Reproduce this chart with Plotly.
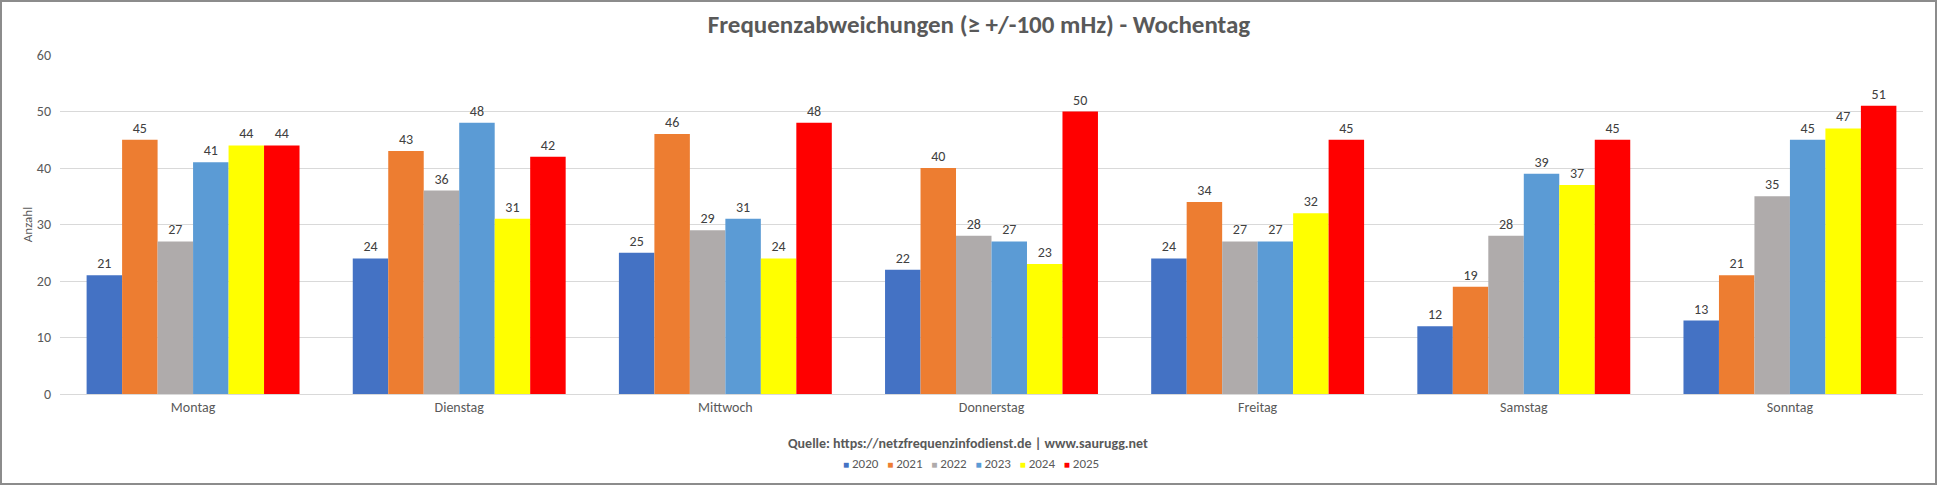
import plotly.graph_objects as go

# Daten
tage = ["Montag", "Dienstag", "Mittwoch", "Donnerstag", "Freitag", "Samstag", "Sonntag"]
jahre = ["2020", "2021", "2022", "2023", "2024", "2025"]
werte_2020 = [21, 24, 25, 22, 24, 12, 13]
werte_2021 = [45, 43, 46, 40, 34, 19, 21]
werte_2022 = [27, 36, 29, 28, 27, 28, 35]
werte_2023 = [41, 48, 31, 27, 27, 39, 45]
werte_2024 = [44, 31, 24, 23, 32, 37, 47]
werte_2025 = [44, 42, 48, 50, 45, 45, 51]

farben = ["#4472C4", "#ED7D31", "#AFABAB", "#5B9BD5", "#FFFF00", "#FF0000"]
serien = [werte_2020, werte_2021, werte_2022, werte_2023, werte_2024, werte_2025]

FONT = "Carlito, 'Liberation Sans Narrow', 'Open Sans', sans-serif"

W, H = 1938, 485
ML, MR, MT, MB = 60, 15, 55, 91
pw = W - ML - MR
ph = H - MT - MB

fig = go.Figure()
for jahr, werte, farbe in zip(jahre, serien, farben):
    fig.add_trace(go.Bar(
        x=tage, y=werte, name=jahr,
        marker=dict(color=farbe, line=dict(width=0)),
        text=werte, textposition="outside",
        textfont=dict(color="#404040", size=14, family=FONT),
        cliponaxis=False,
    ))

# kompakte Legende wie im Original (Excel-Stil)
legende = "&nbsp;&nbsp;&nbsp;".join(
    f"<span style='color:{f};font-size:10px'>■</span>&nbsp;{j}"
    for j, f in zip(jahre, farben)
)

fig.update_layout(
    barmode="group", bargap=0.2, bargroupgap=0,
    width=W, height=H, showlegend=False,
    margin=dict(l=ML, r=MR, t=MT, b=MB, autoexpand=False),
    paper_bgcolor="white", plot_bgcolor="white",
    font=dict(family=FONT, color="#595959", size=14),
    title=dict(text="<b>Frequenzabweichungen (≥ +/-100 mHz) - Wochentag</b>",
               font=dict(size=25, color="#595959", family=FONT),
               x=979 / W, xanchor="center", xref="container",
               y=1 - 24 / H, yanchor="middle", yref="container"),
    xaxis=dict(showgrid=False, showline=True, linecolor="#D9D9D9", linewidth=1,
               tickfont=dict(size=14, color="#595959"), ticks=""),
    yaxis=dict(range=[0, 60], dtick=10, showgrid=True, gridcolor="#D9D9D9",
               gridwidth=1, zeroline=False, showline=False,
               tickfont=dict(size=14, color="#595959"), ticklabelstandoff=8,
               title=dict(text="Anzahl", font=dict(size=13, color="#595959"),
                          standoff=1)),
    annotations=[
        dict(text="<b>Quelle: https://netzfrequenzinfodienst.de | www.saurugg.net</b>",
             xref="paper", yref="paper", x=(968 - ML) / pw,
             y=-(443 - MT - ph) / ph, xanchor="center", yanchor="middle",
             showarrow=False, font=dict(size=14, color="#595959")),
        dict(text=legende, xref="paper", yref="paper", x=(971 - ML) / pw,
             y=-(463 - MT - ph) / ph, xanchor="center", yanchor="middle",
             showarrow=False, font=dict(size=13, color="#595959")),
    ],
    shapes=[dict(type="rect", xref="paper", yref="paper",
                 x0=-(ML - 1) / pw, x1=1 + (MR - 2) / pw,
                 y0=-(MB - 1) / ph, y1=1 + (MT - 1) / ph,
                 line=dict(color="#8C8C8C", width=2))],
)

fig.write_html("out.html", config={"displayModeBar": False},
               post_script="document.body.style.margin='0px';")
